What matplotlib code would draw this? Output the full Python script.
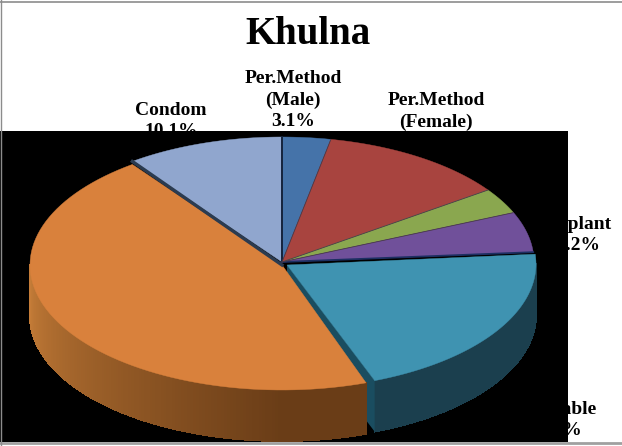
import numpy as np
import matplotlib
matplotlib.use("Agg")
import matplotlib.pyplot as plt
from matplotlib.patches import Polygon, Rectangle

# clockwise from 12 o'clock
names = ["Per.Method\n(Male)", "Per.Method\n(Female)", "Green", "Implant", "Injectable", "Orange", "Condom"]
values = [3.1, 12.1, 3.3, 5.2, 20.8, 45.2, 10.1]
percent_labels = ["3.1%", "12.1%", "", "5.2%", "20.8%", "", "10.1%"]
top_colors = ["#4573a9", "#a8443f", "#8aa74f", "#70509a", "#3f93b1", "#d9813c", "#90a6ce"]
side_dark = ["#24405c", "#5c2422", "#4c5c2a", "#3c2b54", "#1b3f4e", "#6a3d17", "#4f5b72"]
side_light = ["#34577e", "#7c3230", "#66793a", "#523a70", "#1d4453", "#c67d38", "#6d7d9c"]
# small shift of a slice away from the centre, px
shift_x = [0, 0, 0, 0, 2, 0, 0]
shift_y = [0, 0, 0, 0, 2, 3, 0]

cx, cy = 282, 262
rx, ry = 252, 125
depth = 51
teal_gap = 0.028  # rad, teal stops short of the orange slice

plt.rcParams["font.family"] = ["Liberation Serif", "DejaVu Serif"]
fig = plt.figure(figsize=(6.22, 4.46), dpi=100)
ax = fig.add_axes([0, 0, 1, 1])
ax.set_xlim(0, 622)
ax.set_ylim(446, 0)
ax.axis("off")


def ell(t, x0, y0):
    return x0 + rx * np.sin(t), y0 - ry * np.cos(t)


# labels go under the black box, it hides part of them like in the picture
ax.text(308, 35, "Khulna", fontsize=28, fontweight="bold", ha="center", va="center", zorder=1)
lab_kw = dict(fontsize=14, fontweight="bold", ha="center", va="center", linespacing=1.3, zorder=1)
ax.text(293, 100, names[0] + "\n" + percent_labels[0], **lab_kw)
ax.text(436, 122, names[1] + "\n" + percent_labels[1], **lab_kw)
ax.text(578, 235, names[3] + "\n" + percent_labels[3], **lab_kw)
ax.text(555, 420, names[4] + "\n" + percent_labels[4], **lab_kw)
ax.text(171, 121, names[6] + "\n" + percent_labels[6], **lab_kw)

ax.add_patch(Rectangle((0, 131), 568, 311, fc="black", ec="none", zorder=2))

edges = np.cumsum([0] + values) / sum(values) * 2 * np.pi


def wall(i, z, end_cut=0):
    x0, y0 = cx + shift_x[i], cy + shift_y[i]
    a = max(edges[i], np.pi / 2)
    b = min(edges[i + 1] - end_cut, 3 * np.pi / 2)
    ts = np.linspace(a, b, 150)
    c1 = np.array(matplotlib.colors.to_rgb(side_dark[i]))
    c2 = np.array(matplotlib.colors.to_rgb(side_light[i]))
    for t1, t2 in zip(ts[:-1], ts[1:]):
        f = np.clip((t1 - np.pi) / (np.pi * 0.5), 0, 1)
        x1, y1 = ell(t1, x0, y0)
        x2, y2 = ell(t2, x0, y0)
        c = c1 + (c2 - c1) * f
        ax.add_patch(Polygon([(x1, y1), (x2, y2), (x2, y2 + depth), (x1, y1 + depth)],
                             fc=c, ec=c, lw=0.6, antialiased=False, zorder=z))


# side walls, only the front half can be seen
wall(4, 3, teal_gap)

# cut face of the teal slice, shows next to the orange one
x0, y0 = cx + shift_x[4], cy + shift_y[4]
xe, ye = ell(edges[5] - teal_gap, x0, y0)
ax.add_patch(Polygon([(x0 + 3, y0 + 1), (xe, ye), (xe, ye + depth), (x0 + 3, y0 + 1 + depth)],
                     fc="#1a4d60", ec="none", zorder=3.2))
wall(5, 3.4)

# top faces
draw_order = [6, 0, 1, 2, 3, 4, 5]
for i in draw_order:
    x0, y0 = cx + shift_x[i], cy + shift_y[i]
    end = edges[i + 1] - (teal_gap if i == 4 else 0)
    ts = np.linspace(edges[i], end, 80)
    xs, ys = ell(ts, x0, y0)
    apex = (x0 + 3, y0 + 1) if i == 4 else (x0, y0)
    pts = [apex] + list(zip(xs, ys))
    ax.add_patch(Polygon(pts, closed=True, fc=top_colors[i], ec=top_colors[i], lw=0.3, zorder=4 + i * 0.01))

# darker seams
x1, y1 = ell(edges[0], cx, cy)
ax.plot([cx, x1], [cy, y1], color="#14233d", lw=1.4, zorder=5)
x1, y1 = ell(edges[6], cx, cy)
ax.plot([cx, x1], [cy + 3, y1], color="#2b3b50", lw=2.4, zorder=5)
x1, y1 = ell(edges[4], cx, cy)
ax.plot([cx, x1], [cy, y1], color="#1d2f62", lw=1.3, zorder=5)
for k in [1, 2, 3]:
    x1, y1 = ell(edges[k], cx, cy)
    ax.plot([cx, x1], [cy, y1], color="#4a3a4a", lw=0.6, zorder=5)

# page borders
ax.plot([0, 622], [1.5, 1.5], color="#8c8c8c", lw=1.2, zorder=6)
ax.plot([0, 622], [442.5, 442.5], color="#a0a0a0", lw=2, zorder=6)
ax.plot([0.5, 0.5], [0, 446], color="#8c8c8c", lw=1, zorder=6)

fig.savefig("out.png", dpi=100)
